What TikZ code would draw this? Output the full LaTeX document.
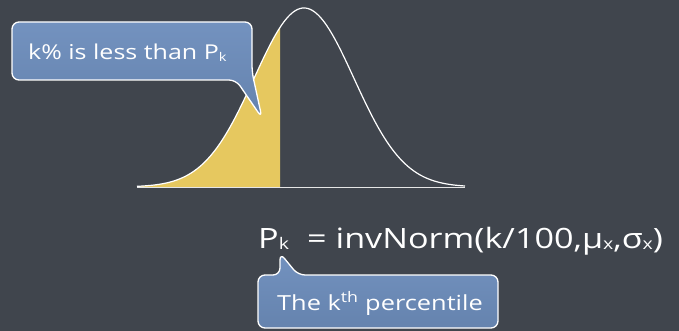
\documentclass[tikz,border=0pt]{standalone}
\usepackage{fontspec}
\setmainfont[FakeStretch=1.22]{Open Sans}
\definecolor{board}{HTML}{40454D}
\definecolor{calloutblue}{HTML}{7392BF}
\definecolor{calloutblue2}{HTML}{6583AE}
\definecolor{areayellow}{HTML}{E6C85F}
\newcommand\mysub[2]{\raisebox{-0.06em}{\fontsize{#2}{#2}\selectfont #1}}
\begin{document}
\begin{tikzpicture}[x=1pt,y=-1pt,
  calloutbox/.style={top color=calloutblue, bottom color=calloutblue2, draw=white, line width=1.3pt, rounded corners=7pt, line join=round},
  chalk/.style={draw=white, line width=1.2pt},
  txt/.style={text=white, inner sep=0pt, anchor=base west}]
\fill[board] (0,0) rectangle (679,331);
\useasboundingbox (0,0) rectangle (679,331);
% shaded area
\fill[areayellow] (137,187) -- plot[domain=137:280, samples=80, smooth] (\x,{187-179*exp(-((\x-304)/50)^2/2)}) -- (280,187) -- cycle;
% baseline
\draw[white!80!gray, line width=0.8pt] (137,187) -- (465,187);
% curve
\draw[chalk] plot[domain=137:465, samples=160, smooth] (\x,{187-179*exp(-((\x-304)/50)^2/2)});
% callout 1
\draw[calloutbox] (12,22) -- (252,22) -- (252,72) -- (262,118) -- (236,80) -- (12,80) -- cycle;
\node[txt, font=\fontsize{20.5}{20.5}\selectfont] (c1) at (28,60) {k\% is less than P\mysub{k}{12}};
% formula
\node[txt, font=\fontsize{28}{28}\selectfont] (f) at (258,248) {P\mysub{k}{16}\,\, = invNorm(k/100,μ\mysub{x}{16},σ\mysub{x}{16})};
% callout 2
\draw[calloutbox] (258,275) -- (280,275) -- (280,253) -- (298,275) -- (498,275) -- (498,328) -- (258,328) -- cycle;
\node[txt, font=\fontsize{20.8}{20.8}\selectfont] (c2) at (277,310) {The k\textsuperscript{th} percentile};
\end{tikzpicture}
\end{document}
